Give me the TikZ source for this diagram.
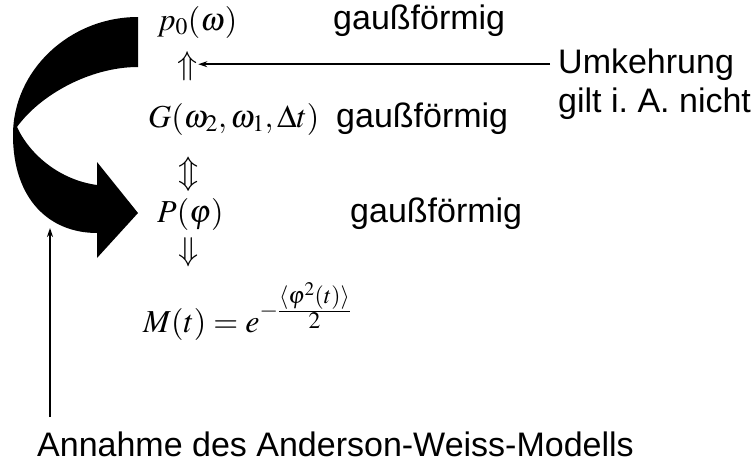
\documentclass[tikz,border=0pt]{standalone}
\usepackage{fix-cm}
\usepackage{mathptmx}
\usepackage[no-math]{fontspec}
\setsansfont{Liberation Sans}
\usetikzlibrary{arrows.meta}
\frenchspacing
\tikzset{
  txt/.style={inner sep=0pt, anchor=base west, font=\sffamily\fontsize{34}{40}\selectfont},
  mth/.style={inner sep=0pt, anchor=base west, font=\fontsize{32}{40}\selectfont},
  sym/.style={inner sep=0pt, anchor=center, font=\fontsize{33}{36}\selectfont},
  conn/.style={line width=1.5pt, -{Stealth[length=9pt,width=6pt]}},
}
\begin{document}
\begin{tikzpicture}[x=1pt,y=-1pt]
\useasboundingbox (0,0) rectangle (755,463);
% big curved arrow
\fill[black] (138,17) .. controls (70,17) and (13,70) .. (13,135)
  .. controls (13,200) and (50,233) .. (97,233)
  -- (97,258) -- (138,213) -- (97,162) -- (97,185)
  .. controls (60,180) and (30,155) .. (17,127)
  .. controls (40,95) and (90,67) .. (138,67) -- cycle;
% formulas
\node[mth] (p0) at (157,30) {$p_0(\omega)$};
\node[sym] (up1) at (188,66) {$\Uparrow$};
\node[mth] (G) at (148,127) {$G(\omega_2,\omega_1,\Delta t)$};
\node[sym] (updown) at (189,174) {$\Updownarrow$};
\node[mth] (P) at (157,222) {$P(\varphi)$};
\node[sym] (down1) at (189,252) {$\Downarrow$};
\node[mth] (M) at (143,332) {$M(t)=e^{-\frac{\scriptstyle\langle\varphi^2(t)\rangle}{\scriptstyle 2}}$};
% texts
\node[txt] (g1) at (333,29) {gaußförmig};
\node[txt] (g2) at (336,127) {gaußförmig};
\node[txt] (g3) at (350,222) {gaußförmig};
\node[txt] (umk) at (558,73) {Umkehrung};
\node[txt] (gilt) at (558,112) {gilt i. A. nicht};
\node[txt] (ann) at (37,456) {Annahme des Anderson-Weiss-Modells};
% connectors
\draw[conn, shorten <=8pt] (umk.west) -- (umk.west -| up1.east);
\coordinate (tipA) at (50,228);
\draw[conn, shorten <=14pt] (tipA |- ann.north) -- (tipA);
\end{tikzpicture}
\end{document}
